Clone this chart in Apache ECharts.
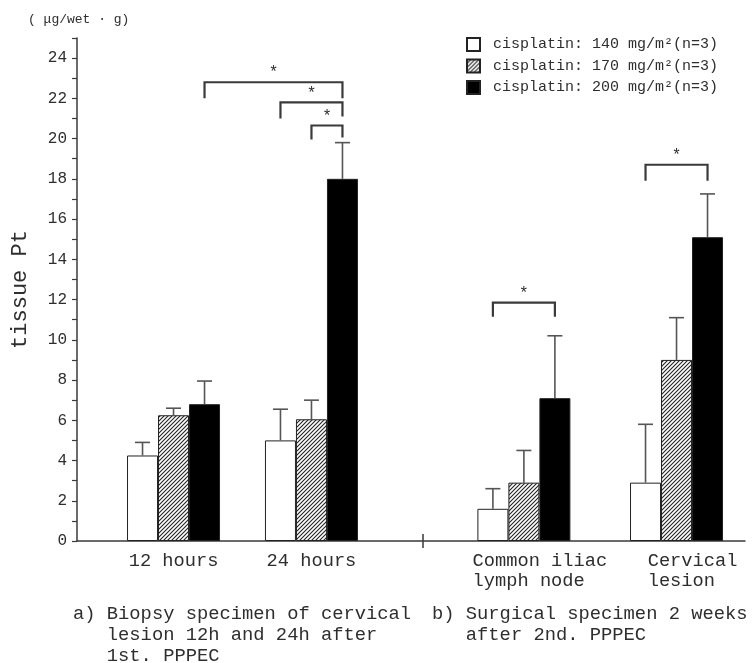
<!DOCTYPE html>
<html>
<head>
<meta charset="utf-8">
<script src="https://cdn.jsdelivr.net/npm/echarts@6/dist/echarts.min.js"></script>
<style>html,body{margin:0;padding:0;background:#fff;}#c{width:752px;height:663px;}</style>
</head>
<body>
<div id="c"></div>
<script>
// ---------- data ----------
const categories = ['12 hours', '24 hours', 'Common iliac\nlymph node', 'Cervical\nlesion'];
const categoryX = [14.45, 35.1, 66.9, 89.75];      // location of each group on the x scale (0-100)
const groupDividerX = [51.8];
const seriesNames = ['cisplatin: 140 mg/m²(n=3)', 'cisplatin: 170 mg/m²(n=3)', 'cisplatin: 200 mg/m²(n=3)'];
const mean140 = [4.25, 5.0, 1.6, 2.9];
const mean170 = [6.25, 6.05, 2.9, 9.0];
const mean200 = [6.8, 18.0, 7.1, 15.1];
const sd140 = [0.65, 1.55, 1.0, 2.9];
const sd170 = [0.35, 0.95, 1.6, 2.1];
const sd200 = [1.15, 1.8, 3.1, 2.15];
// significance brackets: [groupA, seriesA, groupB, seriesB, top, legEndA, legEndB]
const brackets = [
  [0, 2, 1, 2, 22.8, 22.0, 22.0],
  [1, 0, 1, 2, 21.8, 21.0, 21.1],
  [1, 1, 1, 2, 20.65, 19.95, 20.05],
  [2, 0, 2, 2, 11.85, 11.15, 11.15],
  [3, 0, 3, 2, 18.7, 17.9, 17.9]
];
const yMin = 0, yMax = 25;
const unitLabel = '( μg/wet · g)';
const yName = 'tissue Pt';
const noteA = 'a) Biopsy specimen of cervical\n   lesion 12h and 24h after\n   1st. PPPEC';
const noteB = 'b) Surgical specimen 2 weeks\n   after 2nd. PPPEC';

// ---------- styles ----------
const MONO = '"Liberation Mono", "DejaVu Sans Mono", monospace';
const BAR_W = 31;
const TEXT = '#2e2e2e';
const LINE = '#3a3a3a';

function hatch() {
  const c = document.createElement('canvas');
  c.width = 4; c.height = 4;
  const g = c.getContext('2d');
  g.fillStyle = '#fff'; g.fillRect(0, 0, 4, 4);
  g.strokeStyle = '#222'; g.lineWidth = 1.1;
  g.beginPath();
  g.moveTo(-1, 5); g.lineTo(5, -1);
  g.moveTo(-3, 3); g.lineTo(3, -3);
  g.moveTo(1, 7); g.lineTo(7, 1);
  g.stroke();
  return { image: c, repeat: 'repeat' };
}

const means = [mean140, mean170, mean200];
const sds = [sd140, sd170, sd200];
const fills = ['#ffffff', hatch(), '#000000'];

const barSeries = means.map((m, i) => ({
  name: seriesNames[i],
  type: 'bar',
  xAxisIndex: 0,
  barWidth: BAR_W,
  barGap: '0%',
  itemStyle: { color: fills[i], borderColor: '#222', borderWidth: 1 },
  data: categoryX.map((x, g) => [x, m[g]]),
  z: 2
}));

const errData = [];
means.forEach((m, i) => m.forEach((v, g) => errData.push([categoryX[g], v, v + sds[i][g], i])));

const errSeries = {
  type: 'custom',
  xAxisIndex: 0,
  z: 3,
  silent: true,
  data: errData,
  encode: { x: 0, y: 2 },
  renderItem: function (params, api) {
    const p0 = api.coord([api.value(0), api.value(1)]);
    const p1 = api.coord([api.value(0), api.value(2)]);
    const x = p0[0] + (api.value(3) - 1) * BAR_W;
    const st = { stroke: '#555', lineWidth: 1.6 };
    return {
      type: 'group',
      children: [
        { type: 'line', shape: { x1: x, y1: p0[1], x2: x, y2: p1[1] }, style: st },
        { type: 'line', shape: { x1: x - 7.5, y1: p1[1], x2: x + 7.5, y2: p1[1] }, style: st }
      ]
    };
  }
};

const bracketSeries = {
  type: 'custom',
  xAxisIndex: 0,
  z: 4,
  silent: true,
  data: brackets,
  encode: { x: 0, y: 4 },
  renderItem: function (params, api) {
    const gA = api.value(0), sA = api.value(1), gB = api.value(2), sB = api.value(3);
    const top = api.coord([0, api.value(4)])[1];
    const la = api.coord([0, api.value(5)])[1];
    const lb = api.coord([0, api.value(6)])[1];
    const xa = api.coord([categoryX[gA], 0])[0] + (sA - 1) * BAR_W;
    const xb = api.coord([categoryX[gB], 0])[0] + (sB - 1) * BAR_W;
    return {
      type: 'group',
      children: [
        { type: 'polyline', shape: { points: [[xa, la], [xa, top], [xb, top], [xb, lb]] },
          style: { stroke: LINE, lineWidth: 2.2, fill: null } },
        { type: 'text', x: (xa + xb) / 2, y: top - 1,
          style: { text: '*', fill: TEXT, font: '16px ' + MONO, align: 'center', verticalAlign: 'bottom' } }
      ]
    };
  }
};

function catLabel(v) {
  let idx = 0, best = Infinity;
  categoryX.forEach((x, i) => { const d = Math.abs(x - v); if (d < best) { best = d; idx = i; } });
  const lines = categories[idx].split('\n');
  const w = Math.max.apply(null, lines.map(l => l.length));
  const tag = idx >= 2 ? 'r' : 'l';
  return lines.map(l => '{' + tag + '|' + l + ' '.repeat(w - l.length) + '}').join('\n');
}

const chart = echarts.init(document.getElementById('c'), null, { renderer: 'canvas' });
chart.setOption({
  animation: false,
  backgroundColor: '#fff',
  grid: { left: 77, right: 7, top: 38, bottom: 122, containLabel: false },
  legend: {
    orient: 'vertical',
    left: 466,
    top: 37,
    padding: 0,
    icon: 'rect',
    itemWidth: 13,
    itemHeight: 13,
    itemGap: 6.5,
    selectedMode: false,
    data: seriesNames,
    textStyle: { fontFamily: MONO, fontSize: 15, color: TEXT, lineHeight: 15, padding: [0, 0, 0, 8] }
  },
  xAxis: [{
    type: 'value',
    min: 0, max: 100,
    position: 'bottom',
    splitLine: { show: false },
    axisLine: { show: true, lineStyle: { color: LINE, width: 1.5 } },
    axisTick: { show: true, customValues: groupDividerX, length: 7, lineStyle: { color: LINE, width: 1.5 } },
    axisLabel: {
      show: true,
      customValues: categoryX,
      margin: 10,
      formatter: catLabel,
      rich: {
        l: { fontFamily: MONO, fontSize: 18.7, color: TEXT, lineHeight: 20 },
        r: { fontFamily: MONO, fontSize: 18.7, color: TEXT, lineHeight: 20, padding: [0, 0, 0, 32] }
      }
    }
  }, {
    type: 'value',
    min: 0, max: 100,
    position: 'bottom',
    splitLine: { show: false },
    axisLine: { show: false },
    axisLabel: { show: false },
    axisTick: { show: true, inside: true, customValues: groupDividerX, length: 7, lineStyle: { color: LINE, width: 1.5 } }
  }],
  yAxis: {
    type: 'value',
    min: yMin, max: yMax, interval: 1,
    splitLine: { show: false },
    axisLine: { show: true, lineStyle: { color: LINE, width: 1.5 } },
    axisTick: { show: true, length: 5, lineStyle: { color: LINE, width: 1.2 } },
    axisLabel: {
      margin: 10,
      fontFamily: MONO, fontSize: 16, color: TEXT,
      formatter: v => (v % 2 === 0 && v < 25 ? String(v) : '')
    },
    name: yName,
    nameLocation: 'middle',
    nameRotate: 90,
    nameGap: 46,
    nameTextStyle: { fontFamily: MONO, fontSize: 22, color: TEXT }
  },
  graphic: [
    { type: 'text', left: 28, top: 13, style: { text: unitLabel, font: '13px ' + MONO, fill: TEXT } },
    { type: 'text', left: 73, top: 604, style: { text: noteA, font: '18.8px ' + MONO, fill: TEXT, lineHeight: 21 } },
    { type: 'text', left: 432, top: 604, style: { text: noteB, font: '18.8px ' + MONO, fill: TEXT, lineHeight: 21 } }
  ],
  series: barSeries.concat([errSeries, bracketSeries])
});
</script>
</body>
</html>
